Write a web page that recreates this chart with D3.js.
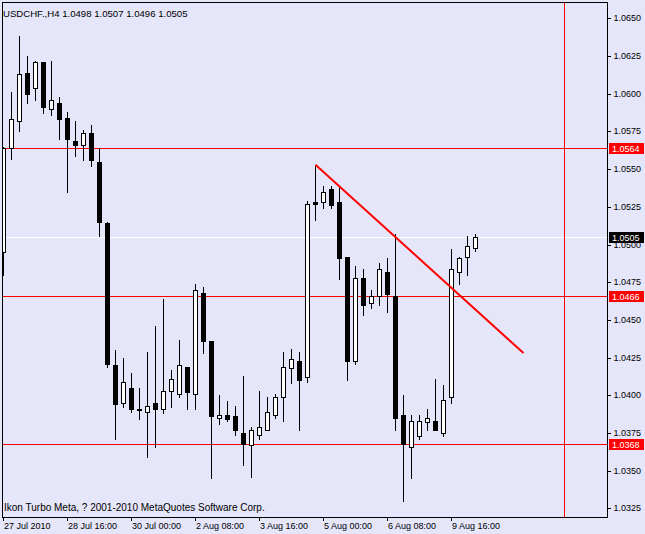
<!DOCTYPE html>
<html><head><meta charset="utf-8">
<script src="https://cdn.jsdelivr.net/npm/d3@7"></script>
<style>
html,body{margin:0;padding:0;background:#E6E6FA;overflow:hidden;}
svg{display:block;}
text{font-family:"Liberation Sans",Arial,sans-serif;}
</style></head><body>
<svg id="c" width="645" height="534"></svg>
<script>
const title = "USDCHF.,H4  1.0498 1.0507 1.0496 1.0505";
const copyright = "Ikon Turbo Meta, ? 2001-2010 MetaQuotes Software Corp.";
const openP  = [1.0495,1.0564,1.0582,1.0614,1.0604,1.0621,1.0590,1.0594,1.0584,1.0569,
                1.0566,1.0574,1.0555,1.0514,1.0420,1.0395,1.0405,1.0391,1.0389,1.0395,
                1.0391,1.0403,1.0401,1.0419,1.0401,1.0468,1.0436,1.0385,1.0387,1.0386,
                1.0375,1.0367,1.0374,1.0377,1.0387,1.0399,1.0418,1.0423,1.0412,1.0528,
                1.0528,1.0537,1.0528,1.0492,1.0423,1.0478,1.0461,1.0466,1.0482,1.0466,
                1.0387,1.0366,1.0373,1.0382,1.0383,1.0375,1.0399,1.0482,1.0492,1.0498];
const highP  = [1.0565,1.0601,1.0638,1.0625,1.0622,1.0621,1.0622,1.0598,1.0588,1.0582,
                1.0576,1.0579,1.0564,1.0515,1.0430,1.0425,1.0415,1.0405,1.0429,1.0446,
                1.0464,1.0417,1.0437,1.0419,1.0474,1.0472,1.0436,1.0400,1.0396,1.0393,
                1.0413,1.0379,1.0403,1.0399,1.0401,1.0429,1.0431,1.0429,1.0529,1.0553,
                1.0539,1.0539,1.0538,1.0492,1.0486,1.0484,1.0470,1.0488,1.0491,1.0507,
                1.0400,1.0387,1.0387,1.0391,1.0411,1.0407,1.0497,1.0492,1.0506,1.0507];
const lowP   = [1.0480,1.0557,1.0575,1.0594,1.0596,1.0587,1.0586,1.0570,1.0535,1.0559,
                1.0556,1.0552,1.0506,1.0419,1.0371,1.0392,1.0389,1.0384,1.0359,1.0366,
                1.0388,1.0392,1.0399,1.0391,1.0391,1.0428,1.0345,1.0381,1.0383,1.0374,
                1.0354,1.0346,1.0371,1.0377,1.0385,1.0383,1.0408,1.0377,1.0409,1.0516,
                1.0524,1.0524,1.0477,1.0410,1.0421,1.0453,1.0458,1.0460,1.0455,1.0377,
                1.0330,1.0345,1.0371,1.0377,1.0377,1.0373,1.0395,1.0474,1.0480,1.0496];
const closeP = [1.0564,1.0583,1.0613,1.0600,1.0621,1.0591,1.0596,1.0583,1.0570,1.0566,
                1.0574,1.0556,1.0515,1.0421,1.0394,1.0409,1.0391,1.0390,1.0393,1.0391,
                1.0403,1.0411,1.0420,1.0402,1.0470,1.0436,1.0386,1.0387,1.0384,1.0377,
                1.0368,1.0377,1.0379,1.0389,1.0399,1.0419,1.0424,1.0410,1.0527,1.0527,
                1.0535,1.0526,1.0491,1.0423,1.0478,1.0460,1.0466,1.0484,1.0467,1.0385,
                1.0368,1.0383,1.0383,1.0385,1.0377,1.0397,1.0484,1.0491,1.0499,1.0505];
const dateLabels = ["27 Jul 2010","28 Jul 16:00","30 Jul 00:00","2 Aug 08:00","3 Aug 16:00","5 Aug 00:00","6 Aug 08:00","9 Aug 16:00"];
const dateTickIdx = [0,8,16,24,32,40,48,56];
const priceTicks = [1.0325,1.0350,1.0375,1.0400,1.0425,1.0450,1.0475,1.0500,1.0525,1.0550,1.0575,1.0600,1.0625,1.0650];
const levels = [1.0564,1.0466,1.0368];
const bidPrice = 1.0505;
const trendIdx = [39,65];
const trendPrice = [1.0553,1.0428];
const vlineIdx = 70;

const L=2, R=607, T=2, B=517;
const svg = d3.select("#c");
const x = d3.scaleLinear().domain([0,1]).range([3.5,11.5]);
const y = d3.scaleLinear().domain([1.0325,1.0650]).range([508.4,18.4]);
const sy = v => Math.round(y(v))+0.5;

svg.append("rect").attr("width",645).attr("height",534).attr("fill","#E6E6FA");

svg.append("clipPath").attr("id","pc").append("rect")
  .attr("x",L).attr("y",T).attr("width",R-L).attr("height",B-T);
const g = svg.append("g").attr("clip-path","url(#pc)");

// bid line
g.append("rect").attr("x",L).attr("width",R-L).attr("y",sy(bidPrice)-0.5).attr("height",1)
  .attr("fill","#FFFFFF").attr("shape-rendering","crispEdges");
// levels
g.selectAll(".lvl").data(levels).join("rect").attr("class","lvl")
  .attr("x",L).attr("width",R-L).attr("y",d=>sy(d)-0.5).attr("height",1)
  .attr("fill","#FF0000").attr("shape-rendering","crispEdges");
// vertical line
g.append("rect").attr("x",Math.round(x(vlineIdx)+0.5)).attr("width",1).attr("y",T).attr("height",B-T)
  .attr("fill","#FF0000").attr("shape-rendering","crispEdges");

const idx = d3.range(openP.length);
// wicks
g.selectAll(".wick").data(idx).join("rect").attr("class","wick")
  .attr("x",i=>x(i)-0.5).attr("width",1)
  .attr("y",i=>sy(highP[i])-0.5).attr("height",i=>sy(lowP[i])-sy(highP[i])+1)
  .attr("fill","#000").attr("shape-rendering","crispEdges");
// bodies
g.selectAll(".body").data(idx).join("rect").attr("class","body")
  .attr("x",i=>x(i)-2).attr("width",4)
  .attr("y",i=>Math.min(sy(openP[i]),sy(closeP[i])))
  .attr("height",i=>Math.max(Math.abs(sy(openP[i])-sy(closeP[i])),1))
  .attr("fill",i=>closeP[i]>openP[i]?"#FFFFFF":"#000000")
  .attr("stroke","#000").attr("shape-rendering","crispEdges");

// trendline
g.append("line").attr("x1",x(trendIdx[0])).attr("y1",y(trendPrice[0]))
  .attr("x2",x(trendIdx[1])).attr("y2",y(trendPrice[1]))
  .attr("stroke","#FF0000").attr("stroke-width",2);

// border
svg.append("rect").attr("x",L+0.5).attr("y",T+0.5).attr("width",R-L).attr("height",B-T)
  .attr("fill","none").attr("stroke","#000").attr("shape-rendering","crispEdges");

// right axis
const ya = svg.append("g").attr("transform",`translate(${R+0.5},0)`)
  .call(d3.axisRight(y).tickValues(priceTicks).tickFormat(d3.format(".4f")).tickSize(3).tickPadding(3));
ya.select(".domain").remove();
ya.selectAll(".tick line").attr("stroke","#000").attr("shape-rendering","crispEdges");
ya.selectAll(".tick").attr("transform",d=>`translate(0,${sy(d)})`);
ya.selectAll("text").attr("font-size",9).attr("fill","#000").attr("font-family","Liberation Sans, Arial, sans-serif");

// bottom axis
const xa = svg.append("g").attr("transform",`translate(0,${B+0.5})`)
  .call(d3.axisBottom(d3.scaleLinear().domain([0,1]).range([2.5,10.5]))
    .tickValues(dateTickIdx).tickFormat((d,i)=>dateLabels[i]).tickSize(3).tickPadding(2));
xa.select(".domain").remove();
xa.selectAll(".tick line").attr("stroke","#000").attr("shape-rendering","crispEdges");
xa.selectAll("text").attr("text-anchor","start").attr("x",1).attr("dy","0.71em")
  .attr("font-size",9).attr("fill","#000").attr("font-family","Liberation Sans, Arial, sans-serif");

// price tags
function tag(v,bg){
  const yy = sy(v);
  svg.append("rect").attr("x",609).attr("y",yy-5.5).attr("width",35).attr("height",11)
    .attr("fill",bg).attr("shape-rendering","crispEdges");
  svg.append("text").attr("x",612).attr("y",yy+3.5).attr("font-size",9).attr("fill","#FFF")
    .text(d3.format(".4f")(v));
}
levels.forEach(v=>tag(v,"#FF0000"));
tag(bidPrice,"#000000");

// texts
svg.append("text").attr("x",3).attr("y",16.5).attr("font-size",9.6).attr("fill","#000").text(title);
svg.append("text").attr("x",4).attr("y",510.5).attr("font-size",10).attr("fill","#000").text(copyright);
</script>
</body></html>
